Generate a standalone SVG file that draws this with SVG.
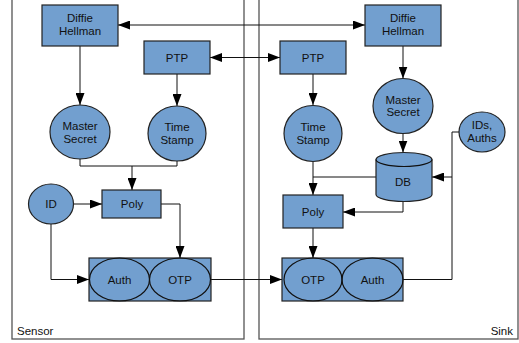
<svg xmlns="http://www.w3.org/2000/svg" width="519" height="343" viewBox="0 0 519 343">
<defs>
<style>
.cont{fill:#fff;stroke:#555;stroke-width:1.3}
.n{fill:#729fcf;stroke:#222;stroke-width:1.2}
.e{fill:none;stroke:#111;stroke-width:1.2}
.c{fill:none;stroke:#111;stroke-width:1}
text{font-family:"Liberation Sans",Arial,sans-serif;font-size:11.5px;fill:#111;text-anchor:middle}
.lbl{font-size:11.5px}
</style>
<marker id="ah" viewBox="0 0 12 9" refX="12" refY="4.5" markerWidth="12" markerHeight="9" markerUnits="userSpaceOnUse" orient="auto">
<path d="M0,0L12,4.5L0,9z" fill="#000"/>
</marker>
<marker id="as" viewBox="0 0 12 9" refX="0" refY="4.5" markerWidth="12" markerHeight="9" markerUnits="userSpaceOnUse" orient="auto">
<path d="M12,0L0,4.5L12,9z" fill="#000"/>
</marker>
</defs>
<rect width="519" height="343" fill="#fff"/>
<g id="sensor">
<rect class="cont" x="12" y="-2" width="232" height="341"/>
<text class="lbl" x="17" y="335" style="text-anchor:start">Sensor</text>
</g>
<g id="sink">
<rect class="cont" x="259" y="-2" width="259" height="341"/>
<text class="lbl" x="513" y="335" style="text-anchor:end">Sink</text>
</g>
<g id="connectors">
<line class="c" x1="118" y1="25" x2="365" y2="25" marker-start="url(#as)" marker-end="url(#ah)"/>
<line class="c" x1="210" y1="57.5" x2="280" y2="57.5" marker-start="url(#as)" marker-end="url(#ah)"/>
<line class="c" x1="80" y1="46" x2="80" y2="105" marker-end="url(#ah)"/>
<line class="c" x1="177" y1="74" x2="177" y2="106" marker-end="url(#ah)"/>
<polyline class="c" points="80,159 80,166 177,166 177,161"/>
<line class="c" x1="132" y1="166" x2="132" y2="190" marker-end="url(#ah)"/>
<line class="c" x1="73.5" y1="204" x2="102" y2="204" marker-end="url(#ah)"/>
<polyline class="c" points="161,204 180,204 180,258" marker-end="url(#ah)"/>
<polyline class="c" points="51,224 51,279.5 89,279.5" marker-end="url(#ah)"/>
<line class="c" x1="211" y1="279.5" x2="282" y2="279.5" marker-end="url(#ah)"/>
<line class="c" x1="403" y1="46" x2="403" y2="78.5" marker-end="url(#ah)"/>
<line class="c" x1="403" y1="133.5" x2="403" y2="152.5" marker-end="url(#ah)"/>
<line class="c" x1="313" y1="74" x2="313" y2="105" marker-end="url(#ah)"/>
<line class="c" x1="313" y1="162" x2="313" y2="195" marker-end="url(#ah)"/>
<line class="c" x1="376" y1="177" x2="313" y2="177"/>
<polyline class="c" points="403,201.5 403,212 343,212" marker-end="url(#ah)"/>
<line class="c" x1="313" y1="228" x2="313" y2="258" marker-end="url(#ah)"/>
<polyline class="c" points="403,279.5 452,279.5 452,132 459,132"/>
<line class="c" x1="452" y1="177" x2="432" y2="177" marker-end="url(#ah)"/>
</g>
<g id="s-dh">
<rect class="n" x="42" y="5" width="76" height="41"/>
<text x="80" y="22">Diffie</text><text x="80" y="35">Hellman</text>
</g>
<g id="s-ptp">
<rect class="n" x="144" y="41" width="66" height="33"/>
<text x="177" y="61.5">PTP</text>
</g>
<g id="s-ms">
<ellipse class="n" cx="80" cy="132" rx="30" ry="27"/>
<text x="80" y="130">Master</text><text x="80" y="142.5">Secret</text>
</g>
<g id="s-ts">
<ellipse class="n" cx="177" cy="133.5" rx="29" ry="27.5"/>
<text x="177" y="131">Time</text><text x="177" y="143.5">Stamp</text>
</g>
<g id="s-id">
<ellipse class="n" cx="51" cy="204" rx="22.5" ry="20"/>
<text x="51" y="208">ID</text>
</g>
<g id="s-poly">
<rect class="n" x="102" y="190" width="59" height="28"/>
<text x="132" y="208">Poly</text>
</g>
<g id="s-authotp">
<rect class="n" x="89" y="258" width="122" height="43"/>
<ellipse class="e" cx="119.5" cy="279.5" rx="30" ry="21.5"/>
<ellipse class="e" cx="180" cy="279.5" rx="30.5" ry="21.5"/>
<text x="119.5" y="283.5">Auth</text>
<text x="180" y="283.5">OTP</text>
</g>
<g id="k-dh">
<rect class="n" x="365" y="5" width="76" height="41"/>
<text x="403" y="22">Diffie</text><text x="403" y="35">Hellman</text>
</g>
<g id="k-ptp">
<rect class="n" x="280" y="41" width="66" height="33"/>
<text x="313" y="61.5">PTP</text>
</g>
<g id="k-ms">
<ellipse class="n" cx="403" cy="106" rx="30" ry="27.5"/>
<text x="403" y="103.5">Master</text><text x="403" y="116">Secret</text>
</g>
<g id="k-ts">
<ellipse class="n" cx="313" cy="133.5" rx="29" ry="28"/>
<text x="313" y="131">Time</text><text x="313" y="143.5">Stamp</text>
</g>
<g id="k-ids">
<ellipse class="n" cx="482" cy="132" rx="23" ry="20"/>
<text x="482" y="129">IDs,</text><text x="482" y="142">Auths</text>
</g>
<g id="k-db">
<path class="n" d="M376,159.5 L376,194.5 A28,7 0 0 0 432,194.5 L432,159.5 A28,7 0 0 0 376,159.5 Z"/>
<path class="e" d="M376,159.5 A28,7 0 0 0 432,159.5"/>
<text x="403" y="185.5">DB</text>
</g>
<g id="k-poly">
<rect class="n" x="283" y="195" width="60" height="33"/>
<text x="313" y="215.5">Poly</text>
</g>
<g id="k-otpauth">
<rect class="n" x="282" y="258" width="121" height="43"/>
<ellipse class="e" cx="313" cy="279.5" rx="29" ry="21.5"/>
<ellipse class="e" cx="372.5" cy="279.5" rx="30.5" ry="21.5"/>
<text x="313" y="283.5">OTP</text>
<text x="372.5" y="283.5">Auth</text>
</g>
</svg>
